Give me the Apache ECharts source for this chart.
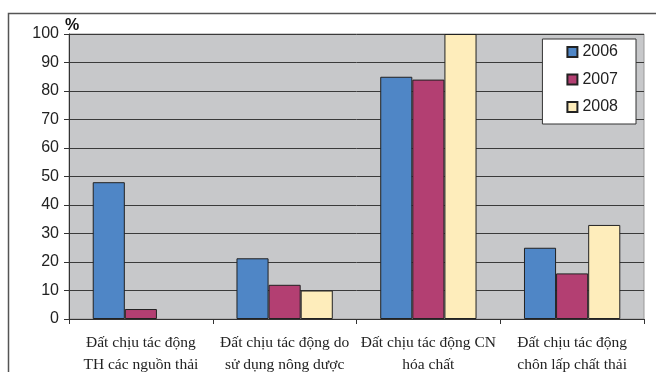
<!DOCTYPE html>
<html>
<head>
<meta charset="utf-8">
<script src="https://cdn.jsdelivr.net/npm/echarts@6/dist/echarts.min.js"></script>
<style>
  html, body { margin: 0; padding: 0; background: #fff; }
  #chart { width: 656px; height: 372px; }
</style>
</head>
<body>
<div id="chart"></div>
<script>
const categories = [
  'Đất chịu tác động\nTH các nguồn thải',
  'Đất chịu tác động do\nsử dụng nông dược',
  'Đất chịu tác động CN\nhóa chất',
  'Đất chịu tác động\nchôn lấp chất thải'
];
const seriesNames = ['2006', '2007', '2008'];
const values2006 = [48, 21.3, 85, 25];
const values2007 = [3.5, 12, 84, 16];
const values2008 = [0, 10, 100, 33];
const yTicks = [0, 10, 20, 30, 40, 50, 60, 70, 80, 90, 100];

const colors = ['#4f86c6', '#b33f72', '#feedbb'];

const chart = echarts.init(document.getElementById('chart'));

const barStyle = (i) => ({
  color: colors[i],
  borderColor: '#222',
  borderWidth: 1
});

// zero bars are not drawn in the original (no outline)
const toBars = (arr) => arr.map((v) => (v === 0 ? null : v));

const option = {
  animation: false,
  textStyle: { fontFamily: 'Liberation Sans, Arial, sans-serif' },
  graphic: [
    {
      type: 'rect',
      shape: { x: 8.5, y: 13.5, width: 680, height: 420 },
      style: { fill: 'none', stroke: '#555', lineWidth: 1.5 },
      z: -10
    },
    {
      type: 'text',
      left: 65,
      top: 18,
      style: { text: '%', font: 'bold 16px Liberation Sans, Arial', fill: '#111' }
    }
  ],
  grid: {
    left: 69,
    right: 12,
    top: 34,
    bottom: 53,
    outerBoundsMode: 'none',
    show: true,
    backgroundColor: '#c7c8ca',
    borderColor: '#999',
    borderWidth: 1
  },
  legend: {
    right: 20,
    top: 39,
    orient: 'vertical',
    itemWidth: 10,
    itemHeight: 10,
    itemGap: 11.5,
    padding: [5, 18, 9, 24],
    backgroundColor: '#fff',
    borderColor: '#333',
    borderWidth: 1,
    textStyle: { fontSize: 16, color: '#222', fontFamily: 'Liberation Sans, Arial' },
    data: seriesNames.map((n) => ({ name: n, icon: 'rect' }))
  },
  xAxis: {
    type: 'category',
    data: categories,
    axisLine: { lineStyle: { color: '#333', width: 1 } },
    axisTick: { show: true, interval: 0, length: 5, lineStyle: { color: '#333' } },
    axisLabel: {
      interval: 0,
      margin: 13,
      fontSize: 15.5,
      lineHeight: 22,
      color: '#222',
      fontFamily: 'Liberation Serif, Times New Roman, serif'
    }
  },
  yAxis: {
    type: 'value',
    min: yTicks[0],
    max: yTicks[yTicks.length - 1],
    interval: 10,
    axisLine: { show: true, lineStyle: { color: '#333', width: 1 } },
    axisTick: { show: true, length: 5, lineStyle: { color: '#333' } },
    splitLine: { show: true, lineStyle: { color: '#3a3a3a', width: 1 } },
    axisLabel: { fontSize: 16, color: '#222', margin: 10 }
  },
  series: [
    { name: seriesNames[0], type: 'bar', data: toBars(values2006), itemStyle: barStyle(0), barGap: '0%', barCategoryGap: '33%' },
    { name: seriesNames[1], type: 'bar', data: toBars(values2007), itemStyle: barStyle(1), barGap: '0%', barCategoryGap: '33%' },
    { name: seriesNames[2], type: 'bar', data: toBars(values2008), itemStyle: barStyle(2), barGap: '0%', barCategoryGap: '33%' }
  ]
};

chart.setOption(option);
</script>
</body>
</html>
